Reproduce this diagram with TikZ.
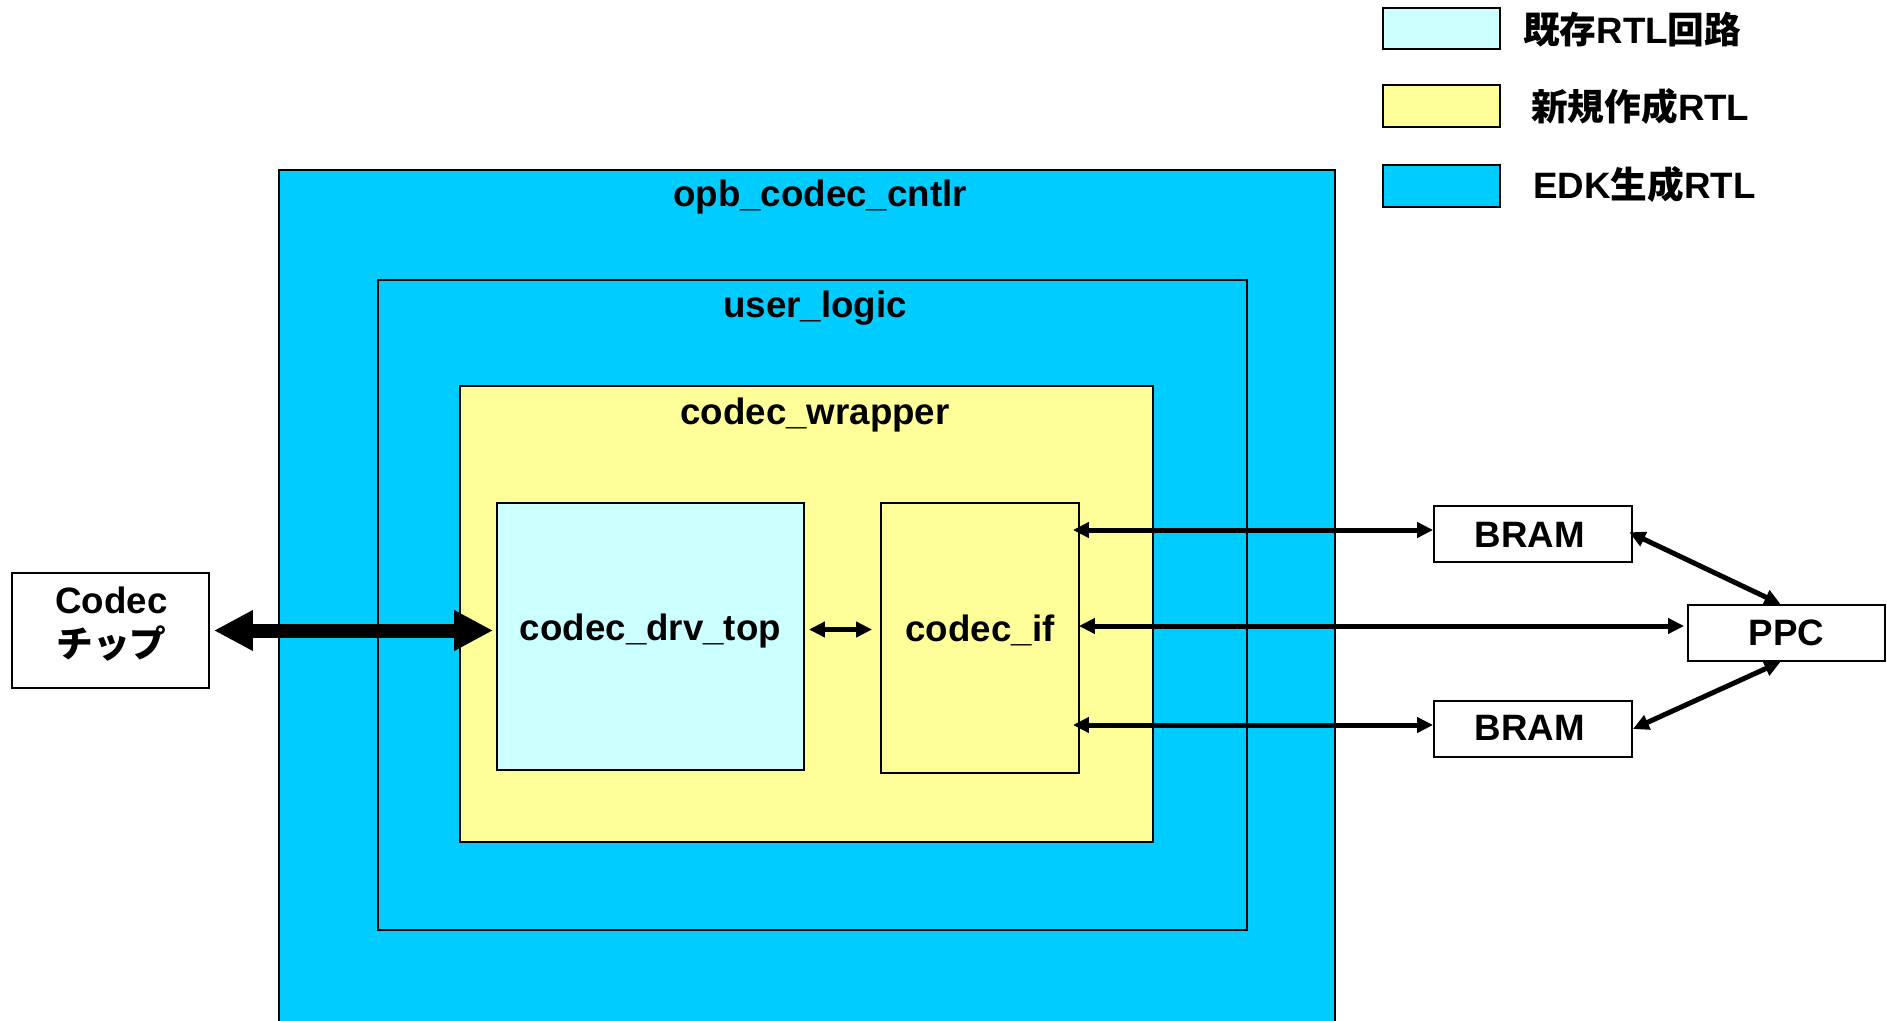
\documentclass[tikz,border=0pt]{standalone}
\usepackage{fontspec}
\setmainfont{Liberation Sans}
\newfontfamily\cjk{Noto Sans CJK JP}
\usetikzlibrary{arrows.meta}
\definecolor{lcyan}{HTML}{CCFFFF}
\definecolor{lyellow}{HTML}{FFFF99}
\definecolor{edkblue}{HTML}{00CCFF}
\begin{document}
\begin{tikzpicture}[x=1pt,y=-1pt,
  box/.style={draw=black, line width=1.8pt, inner sep=0pt, align=center,
    font=\bfseries\fontsize{36.7}{44}\selectfont},
  raised/.style={text height=26.8pt, text depth=19pt},
  lbl/.style={font=\bfseries\fontsize{36.7}{44}\selectfont, inner sep=0pt, anchor=base},
  conn/.style={line width=5pt, {Triangle[length=16pt,width=15pt]}-{Triangle[length=16pt,width=15pt]}},
  bigconn/.style={line width=14pt, {Triangle[length=39pt,width=38pt]}-{Triangle[length=39pt,width=38pt]}}]
\useasboundingbox (0,0) rectangle (1887,1020);
\fill[white] (0,0) rectangle (1887,1020);

% legend
\node[box, fill=lcyan, minimum width=117pt, minimum height=41pt] (lg1) at (1441.5,28.5) {};
\node[box, fill=lyellow, minimum width=117pt, minimum height=42pt] (lg2) at (1441.5,106) {};
\node[box, fill=edkblue, minimum width=117pt, minimum height=42pt] (lg3) at (1441.5,186) {};
\node[lbl, anchor=base west] (lt1) at (1523,43) {{\cjk\bfseries 既存}RTL{\cjk\bfseries 回路}};
\node[lbl, anchor=base west] (lt2) at (1531,120) {{\cjk\bfseries 新規作成}RTL};
\node[lbl, anchor=base west] (lt3) at (1533,198) {EDK{\cjk\bfseries 生成}RTL};

% nested blocks
\node[box, fill=edkblue, minimum width=1056pt, minimum height=860pt] (opb) at (807,600) {};
\node[lbl] (opbt) at ([xshift=13pt,yshift=-37pt]opb.north) {opb\_codec\_cntlr};
\node[box, fill=edkblue, minimum width=869pt, minimum height=650pt] (ul) at (812.5,605) {};
\node[lbl] (ult) at ([xshift=2.5pt,yshift=-38pt]ul.north) {user\_logic};
\node[box, fill=lyellow, minimum width=693pt, minimum height=456pt] (wr) at (806.5,614) {};
\node[lbl] (wrt) at ([xshift=8.5pt,yshift=-39pt]wr.north) {codec\_wrapper};
\node[box, raised, fill=lcyan, minimum width=307pt, minimum height=267pt] (drv) at (650.5,636.5) {codec\_drv\_top};
\node[box, raised, fill=lyellow, minimum width=198pt, minimum height=270pt] (cif) at (980,638) {codec\_if};

% outside blocks
\node[box, fill=white, minimum width=197pt, minimum height=115pt] (chip) at (110.5,630.5) {};
\node[lbl, align=center, anchor=center] (chipt) at ([xshift=1pt,yshift=6pt]chip.center) {Codec\\{\cjk\bfseries チップ}};
\node[box, fill=white, minimum width=198pt, minimum height=56pt] (bram1) at (1533,534) {};
\node[lbl] (bram1t) at ([xshift=-3pt,yshift=-13.8pt]bram1.center) {BRAM};
\node[box, fill=white, minimum width=197pt, minimum height=56pt] (ppc) at (1786.5,633) {PPC};
\node[box, fill=white, minimum width=198pt, minimum height=56pt] (bram2) at (1533,729) {};
\node[lbl] (bram2t) at ([xshift=-3pt,yshift=-11.6pt]bram2.center) {BRAM};

% connectors
\draw[bigconn, shorten <=4pt, shorten >=3pt] (chip.east) -- (chip.east -| drv.west);
\path ([yshift=7pt]drv.east) coordinate (d1);
\draw[conn, shorten <=4pt, shorten >=8pt] (d1) -- (d1 -| cif.west);
\path ([yshift=4pt]bram1.west) coordinate (b1w);
\draw[conn, shorten <=-7pt] (b1w -| cif.east) -- (b1w);
\path ([yshift=7pt]ppc.west) coordinate (pw);
\draw[conn, shorten <=-1pt, shorten >=3pt] (pw -| cif.east) -- (pw);
\path ([yshift=4pt]bram2.west) coordinate (b2w);
\draw[conn, shorten <=-7pt] (b2w -| cif.east) -- (b2w);
\draw[conn, shorten <=-4pt] (bram1.east) -- ([xshift=-6pt]ppc.north);
\draw[conn] (bram2.east) -- ([xshift=-6pt]ppc.south);
\end{tikzpicture}
\end{document}
